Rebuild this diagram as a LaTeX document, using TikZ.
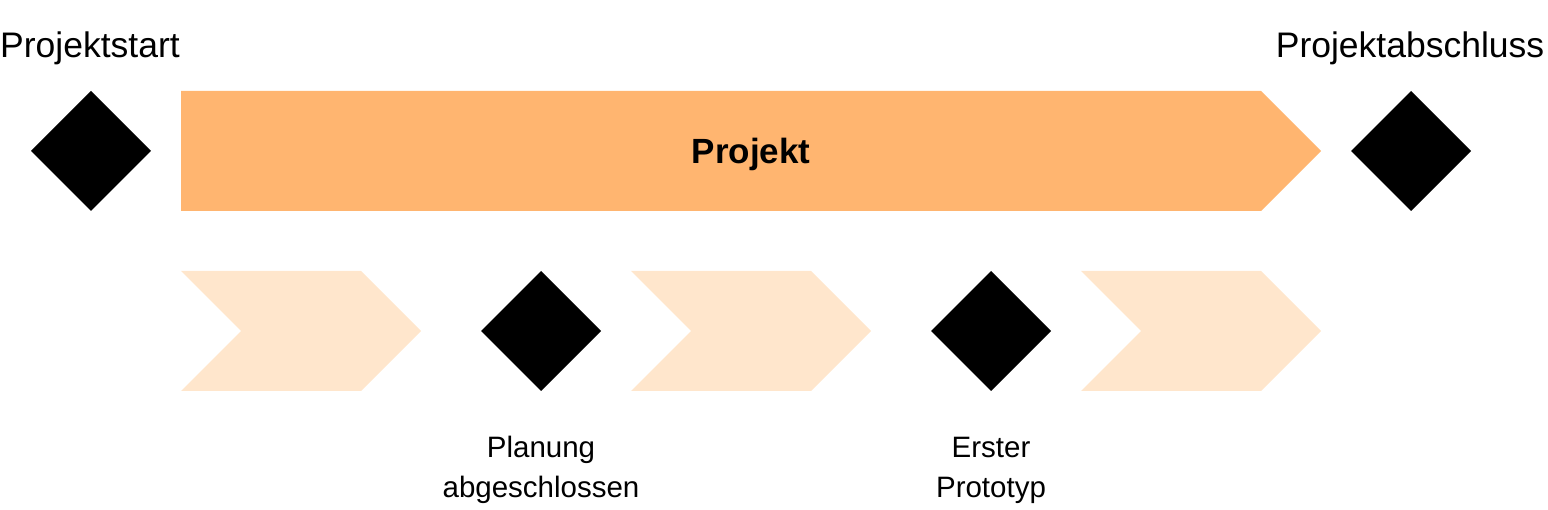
\documentclass[tikz,border=0pt]{standalone}
\usepackage{fontspec}
\setmainfont{Liberation Sans}
\definecolor{projorange}{HTML}{FFB570}
\definecolor{phaselight}{HTML}{FFE6CC}
\begin{document}
\begin{tikzpicture}[x=1pt,y=-1pt,
  milestone/.style={fill=black},
  phase/.style={fill=phaselight},
  bigtxt/.style={font=\fontsize{35.5}{40}\selectfont, inner sep=0pt},
  smalltxt/.style={font=\fontsize{29.5}{40}\selectfont, align=center, inner sep=0pt},
  boldtxt/.style={font=\fontsize{35}{40}\selectfont\bfseries, inner sep=0pt}]
\useasboundingbox (0,0) rectangle (1548,510);
% top project arrow
\fill[projorange] (181,91) -- (1261,91) -- (1321,151) -- (1261,211) -- (181,211) -- cycle;
\node[boldtxt] (proj) at (751,154) {Projekt};
% start / end milestones
\fill[milestone] (31,151) -- (91,91) -- (151,151) -- (91,211) -- cycle;
\fill[milestone] (1351,151) -- (1411,91) -- (1471,151) -- (1411,211) -- cycle;
\node[bigtxt] (start) at (90,48) {Projektstart};
\node[bigtxt] (ende) at (1410,48) {Projektabschluss};
% phases
\foreach \x in {181,631,1081}{
  \fill[phase] (\x,271) -- (\x+180,271) -- (\x+240,331) -- (\x+180,391) -- (\x,391) -- (\x+60,331) -- cycle;
}
% inner milestones
\fill[milestone] (481,331) -- (541,271) -- (601,331) -- (541,391) -- cycle;
\fill[milestone] (931,331) -- (991,271) -- (1051,331) -- (991,391) -- cycle;
\node[smalltxt] (plan) at (541,470) {Planung\\abgeschlossen};
\node[smalltxt] (proto) at (991,470) {Erster\\Prototyp};
\end{tikzpicture}
\end{document}
